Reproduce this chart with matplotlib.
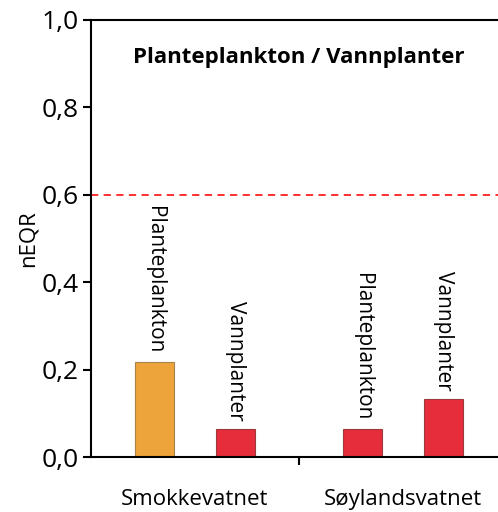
import matplotlib
matplotlib.use('Agg')
import matplotlib.pyplot as plt
import numpy as np

# === Data ===
lakes = ['Smokkevatnet', 'Søylandsvatnet']
groups = ['Planteplankton', 'Vannplanter']
values = [[0.217, 0.063],   # Smokkevatnet
          [0.064, 0.133]]   # Søylandsvatnet
bar_colors = [['#EDA43A', '#E52D3B'],
              ['#E52D3B', '#E52D3B']]
edge_colors = [['#A8824A', '#9E3A3E'],
               ['#9E3A3E', '#9E3A3E']]
limit = 0.6
yticks = [0.0, 0.2, 0.4, 0.6, 0.8, 1.0]

plt.rcParams['font.family'] = ['Open Sans', 'DejaVu Sans']

fig = plt.figure(figsize=(4.98, 5.12), dpi=100)
# axes extends a bit past the right edge, like the original
ax = fig.add_axes([91/498, 1 - 457/512, (507-91)/498, (457-20)/512])

x = np.arange(len(lakes))
w = 0.1875
off = 0.195
for i, lake in enumerate(lakes):
    for j, g in enumerate(groups):
        xpos = x[i] + (j*2 - 1) * off
        ax.bar(xpos, values[i][j], width=w, color=bar_colors[i][j],
               edgecolor=edge_colors[i][j], linewidth=0.8, zorder=2)
        ax.annotate(g, (xpos, values[i][j]), xytext=(0, 6),
                    textcoords='offset points', rotation=-90,
                    ha='center', va='bottom', fontsize=15, color='black')

ax.axhline(limit, color='#FF2020', linestyle=(0, (4, 3)), linewidth=1.3, zorder=1)

ax.set_xlim(-0.5, 1.5)
ax.set_ylim(0, 1.0)
ax.set_yticks(yticks)
ax.set_yticklabels([f'{t:.1f}'.replace('.', ',') for t in yticks], fontsize=19)
ax.set_xticks([0.5])
ax.set_xticklabels([''])
ax.set_xticks(x, minor=True)
ax.set_xticklabels(lakes, minor=True, fontsize=16)
ax.tick_params(axis='x', which='minor', length=0, pad=23)
ax.tick_params(axis='x', which='major', length=6, width=1.5, direction='out')
ax.tick_params(axis='y', length=6, width=1.5, direction='out', pad=3)

ax.set_ylabel('nEQR', fontsize=16, labelpad=2)
ax.text(0.5, 0.915, 'Planteplankton / Vannplanter', transform=ax.transAxes,
        ha='center', va='center', fontsize=16, fontweight='bold')

for s in ['left', 'bottom', 'top']:
    ax.spines[s].set_linewidth(1.5)
ax.spines['right'].set_visible(False)

fig.savefig('out.png', dpi=100)
